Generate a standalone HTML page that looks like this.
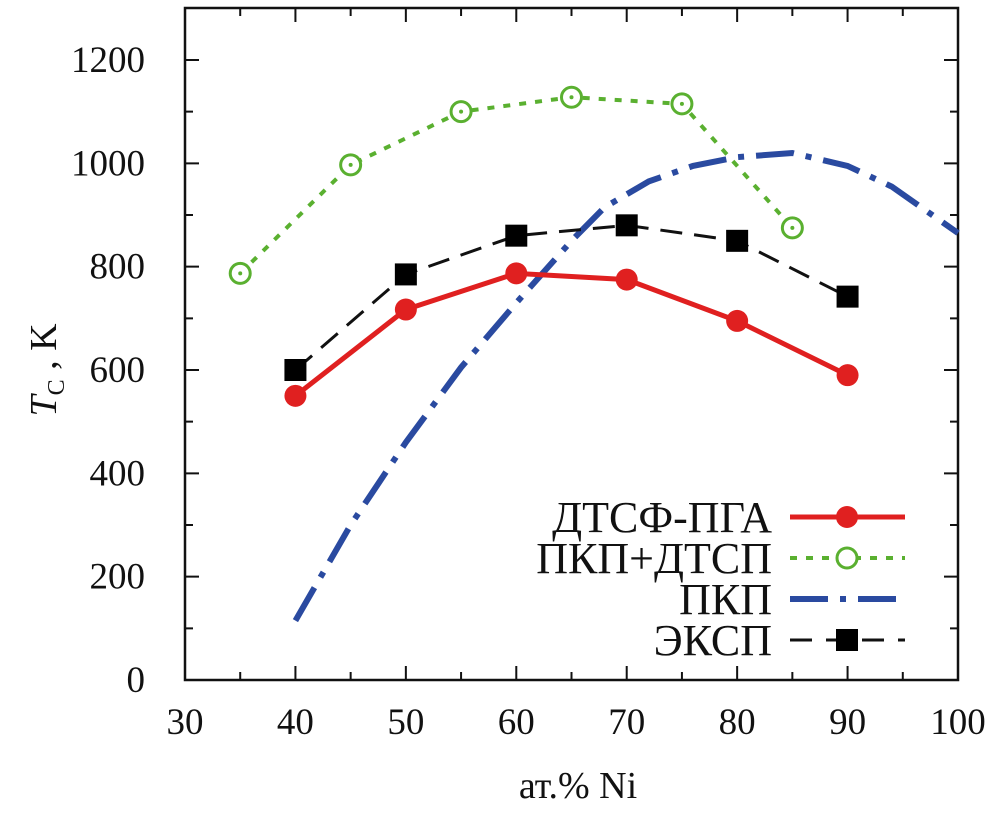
<!DOCTYPE html>
<html><head><meta charset="utf-8"><style>
body{margin:0;background:#fff}
svg text{font-family:"Liberation Serif",serif;fill:#111}
</style></head><body>
<svg id="chart" width="1004" height="823" viewBox="0 0 1004 823" xmlns="http://www.w3.org/2000/svg">
<g id="axes"></g><g id="series"></g><g id="legend"></g>
</svg>
<script>
const xTicks=[30,40,50,60,70,80,90,100];
const yTicks=[0,200,400,600,800,1000,1200];
const xRed=[40,50,60,70,80,90];
const yRed=[550,717,787,775,695,590];
const xBlack=[40,50,60,70,80,90];
const yBlack=[600,785,860,880,850,742];
const xGreen=[35,45,55,65,75,85];
const yGreen=[787,997,1100,1128,1115,875];
const xBlue=[40,45,50,55,60,65,68,72,76,80,85,90,94,100];
const yBlue=[115,300,460,605,730,850,915,965,995,1012,1020,995,955,865];
const legendLabels=["ДТСФ-ПГА","ПКП+ДТСП","ПКП","ЭКСП"];

const L=185,R=958,T=8,B=680;
const sx=v=>L+(v-30)/70*(R-L);
const sy=v=>B-v/1200*620;
const NS="http://www.w3.org/2000/svg";
function mk(tag,attrs,parent){const e=document.createElementNS(NS,tag);for(const k in attrs)e.setAttribute(k,attrs[k]);parent.appendChild(e);return e;}
const axes=document.getElementById('axes'),series=document.getElementById('series'),legend=document.getElementById('legend');

const frame=mk('rect',{x:L,y:T,width:R-L,height:B-T,fill:'none',stroke:'#111','stroke-width':2.5},axes);


for(let v=30;v<=100;v+=5){
  const x=sx(v),len=(v%10===0)?14:8;
  const t=mk('path',{d:`M${x},${B}v${-len}M${x},${T}v${len}`,stroke:'#111','stroke-width':2},axes);
  
  
}
for(let v=0;v<=1200;v+=100){
  const y=sy(v),len=(v%200===0)?14:8;
  const t=mk('path',{d:`M${L},${y}h${len}M${R},${y}h${-len}`,stroke:'#111','stroke-width':2},axes);
  
  
}
xTicks.forEach(v=>{
  const t=mk('text',{x:sx(v),y:734,'font-size':37,'text-anchor':'middle'},axes);t.textContent=v;
  
  
});
yTicks.forEach(v=>{
  const t=mk('text',{x:145,y:sy(v)+12,'font-size':37,'text-anchor':'end'},axes);t.textContent=v;
  
  
});
const xt=mk('text',{x:578,y:798,'font-size':38,'text-anchor':'middle'},axes);xt.textContent='ат.% Ni';


const yt=mk('text',{transform:'translate(56,370) rotate(-90)','font-size':38,'text-anchor':'middle'},axes);
yt.innerHTML='<tspan font-style="italic">T</tspan><tspan font-size="24" dy="8">C</tspan><tspan dy="-8"> , K</tspan>';



function poly(xs,ys){return xs.map((x,i)=>(i?'L':'M')+sx(x)+','+sy(ys[i])).join('');}
const blue=mk('path',{d:poly(xBlue,yBlue),fill:'none',stroke:'#2a4aa0','stroke-width':6,'stroke-dasharray':'38,12,6,12'},series);


const green=mk('path',{d:poly(xGreen,yGreen),fill:'none',stroke:'#5ab030','stroke-width':4,'stroke-dasharray':'7,9'},series);


xGreen.forEach((x,i)=>{
  const c=mk('circle',{cx:sx(x),cy:sy(yGreen[i]),r:10,fill:'#fff',stroke:'#5ab030','stroke-width':3},series);
  
  
  const d=mk('circle',{cx:sx(x),cy:sy(yGreen[i]),r:2,fill:'#5ab030'},series);
  
  
});
const black=mk('path',{d:poly(xBlack,yBlack),fill:'none',stroke:'#111','stroke-width':3,'stroke-dasharray':'22,12'},series);


xBlack.forEach((x,i)=>{
  const r=mk('rect',{x:sx(x)-11,y:sy(yBlack[i])-11,width:22,height:22,fill:'#000'},series);
  
  
});
const red=mk('path',{d:poly(xRed,yRed),fill:'none',stroke:'#e02020','stroke-width':5},series);


xRed.forEach((x,i)=>{
  const c=mk('circle',{cx:sx(x),cy:sy(yRed[i]),r:11,fill:'#e02020'},series);
  
  
});

const rows=[517,558,599,640];
legendLabels.forEach((lab,i)=>{
  const y=rows[i];
  const t=mk('text',{x:772,y:y+15,'font-size':44,'text-anchor':'end'},legend);t.textContent=lab;
  
  
  let s;
  if(i===0){s=mk('path',{d:`M790,${y}H905`,stroke:'#e02020','stroke-width':5},legend);
    const c=mk('circle',{cx:847,cy:y,r:11,fill:'#e02020'},legend);}
  if(i===1){s=mk('path',{d:`M790,${y}H905`,stroke:'#5ab030','stroke-width':4,'stroke-dasharray':'7,9'},legend);
    const c=mk('circle',{cx:847,cy:y,r:10,fill:'#fff',stroke:'#5ab030','stroke-width':3},legend);}
  if(i===2){s=mk('path',{d:`M790,${y}H905`,stroke:'#2a4aa0','stroke-width':6,'stroke-dasharray':'38,12,6,12'},legend);}
  if(i===3){s=mk('path',{d:`M790,${y}H905`,stroke:'#111','stroke-width':3,'stroke-dasharray':'22,14'},legend);
    const r=mk('rect',{x:836,y:y-11,width:22,height:22,fill:'#000'},legend);}
  
  
});
</script>
</body></html>
